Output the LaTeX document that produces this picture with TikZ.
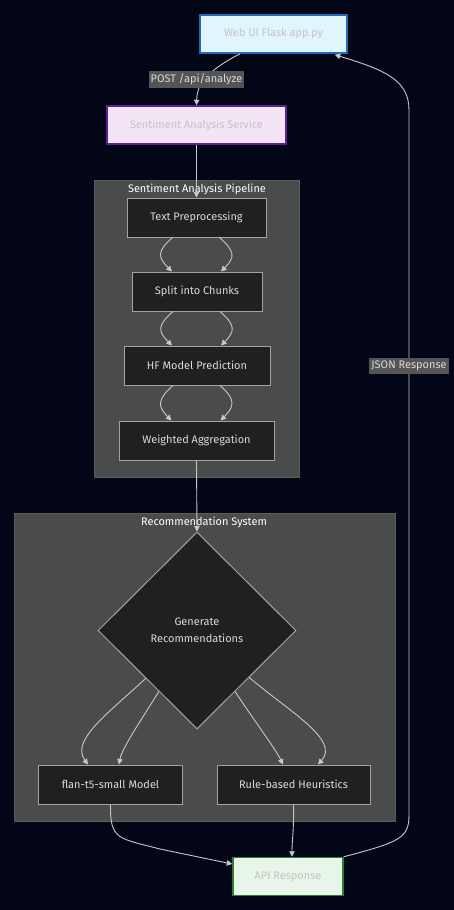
\documentclass[tikz,border=0pt]{standalone}
\usepackage{fontspec}
\setmainfont{Fira Sans}
\usetikzlibrary{arrows.meta,shapes.geometric,calc}
\definecolor{bgc}{HTML}{020617}
\definecolor{clfill}{HTML}{4A4B4B}
\definecolor{clline}{HTML}{5C5C5C}
\definecolor{nodefill}{HTML}{1F2020}
\definecolor{nodeline}{HTML}{A3A3A3}
\definecolor{txt}{HTML}{DADADA}
\definecolor{lighttxt}{HTML}{C4C4C4}
\definecolor{edgec}{HTML}{C8C8C8}
\definecolor{lblfill}{HTML}{555555}
\definecolor{webfill}{HTML}{E1F5FE}
\definecolor{webline}{HTML}{1E6BB8}
\definecolor{sasfill}{HTML}{F3E5F5}
\definecolor{sasline}{HTML}{5E1E95}
\definecolor{apifill}{HTML}{E8F5E9}
\definecolor{apiline}{HTML}{2E7D32}
\tikzset{
  dark/.style={draw=nodeline, fill=nodefill, line width=1bp, text=txt, font=\fontsize{11}{13}\selectfont, minimum height=39bp, inner sep=0pt},
  light/.style={line width=1.5bp, text=lighttxt, font=\fontsize{11}{13}\selectfont, minimum height=38bp, inner sep=0pt},
  cluster/.style={draw=clline, fill=clfill, line width=1bp},
  ctitle/.style={text=white, font=\fontsize{11}{13}\selectfont},
  edge/.style={draw=edgec, line width=0.9bp, -{Triangle[length=5.5bp,width=5.5bp]}},
  elabel/.style={fill=lblfill, text=txt, font=\fontsize{11}{13}\selectfont, inner xsep=2bp, inner ysep=2.5bp}
}
\begin{document}
\begin{tikzpicture}[x=1bp,y=-1bp]
\fill[bgc] (0,0) rectangle (454,910);
\useasboundingbox (0,0) rectangle (454,910);
% clusters
\draw[cluster] (94,180) rectangle (299,477);
\node[ctitle] (pt) at (197,189) {Sentiment Analysis Pipeline};
\draw[cluster] (14,513) rectangle (395,821);
\node[ctitle] (rt) at (204,522) {Recommendation System};
% nodes
\node[light, draw=webline, fill=webfill, minimum width=147bp] (web) at (273.5,34) {Web UI Flask app.py};
\node[light, draw=sasline, fill=sasfill, minimum width=179bp] (sas) at (196.5,125) {Sentiment Analysis Service};
\node[dark, minimum width=139bp] (tp) at (196.5,217.5) {Text Preprocessing};
\node[dark, minimum width=130bp] (sp) at (197,291.5) {Split into Chunks};
\node[dark, minimum width=146bp] (hf) at (197,365.5) {HF Model Prediction};
\node[dark, minimum width=155bp] (wa) at (196.5,440.5) {Weighted Aggregation};
\node[draw=nodeline, fill=nodefill, line width=1bp, text=txt, font=\fontsize{11}{17}\selectfont, diamond, minimum width=198bp, minimum height=197bp, inner sep=0pt, align=center] (gen) at (197,630.5) {Generate\\Recommendations};
\node[dark, minimum width=143bp] (fl) at (110.5,784.5) {flan-t5-small Model};
\node[dark, minimum width=153bp] (rb) at (293.5,784.5) {Rule-based Heuristics};
\node[light, draw=apiline, fill=apifill, minimum width=110bp] (api) at (288,876.5) {API Response};
% edges
\draw[edge] ($(web.south)+(-33.5,0)$) .. controls (205,72) and (197,85) .. (sas.north);
\node[elabel] (l1) at (196.5,79.5) {POST /api/analyze};
\draw[edge] (sas.south) -- (tp.north);
\foreach \a/\b in {tp/sp, sp/hf, hf/wa}{
  \draw[edge] ($(\a.south)+(-24,0)$) .. controls +(-16,14) and +(-14,-14) .. ($(\b.north)+(-25,0)$);
  \draw[edge] ($(\a.south)+(23,0)$) .. controls +(16,14) and +(14,-14) .. ($(\b.north)+(24,0)$);
}
\draw[edge] (wa.south) -- (gen.north);
\draw[edge] (gen.223) .. controls (110,712) and (70,740) .. ($(fl.north)+(-22.5,0)$);
\draw[edge] (gen.238) .. controls (140,722) and (122,748) .. ($(fl.north)+(8.5,0)$);
\draw[edge] (gen.302) .. controls (255,722) and (275,748) .. ($(rb.north)+(-10.5,0)$);
\draw[edge] (gen.318) .. controls (290,712) and (340,740) .. ($(rb.north)+(24.5,0)$);
\draw[edge] (fl.south) .. controls (110,840) and (118,838) .. (160,849) -- (api.west |- 0,864);
\draw[edge] (rb.south) .. controls (294,830) and (292,840) .. ($(api.north)+(4,0)$);
\draw[edge] (api.north east) .. controls (400,842) and (409,838) .. (409,815) -- (409,110) .. controls (409,80) and (385,70) .. ($(web.south east)+(-13,1)$);
\node[elabel] (l2) at (409,366) {JSON Response};
\end{tikzpicture}
\end{document}
